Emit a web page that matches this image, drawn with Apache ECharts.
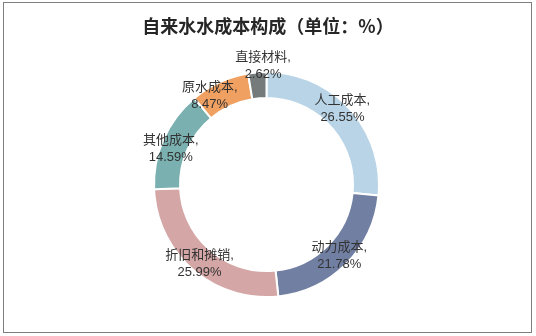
<!DOCTYPE html>
<html><head><meta charset="utf-8">
<script src="https://cdn.jsdelivr.net/npm/echarts@6/dist/echarts.min.js"></script>
<style>html,body{margin:0;padding:0;background:#fff}#c{width:536px;height:336px;position:relative}
#frame{position:absolute;left:3px;top:2px;width:527px;height:329px;border:1px solid #7f7f7f;box-sizing:content-box;pointer-events:none}</style>
</head><body><div id="c"></div><div id="frame"></div>
<script>
const categories = ['人工成本','动力成本','折旧和摊销','其他成本','原水成本','直接材料'];
const values = [26.55, 21.78, 25.99, 14.59, 8.47, 2.62];
const colors = ['#b8d4e6','#717fa3','#d4a6a6','#7ab0b0','#f0a060','#757b7b'];
const labelOffsets = [[0,-7],[0,-1],[0,2],[-2,6],[-14,5],[5,-16]];
const chart = echarts.init(document.getElementById('c'));
chart.setOption({
  animation:false,
  title:{text:'自来水水成本构成（单位：%）',left:'center',top:12,
    textStyle:{fontFamily:'Noto Sans CJK SC',fontWeight:'bold',fontSize:18,color:'#262626'}},
  series:[{
    type:'pie',
    center:[266.5,184.5],
    radius:[86.5,112.5],
    startAngle:90,
    clockwise:true,
    avoidLabelOverlap:false,
    minShowLabelAngle:0,
    labelLayout:{hideOverlap:false},
    itemStyle:{borderColor:'#fff',borderWidth:2},
    label:{show:true,position:'inside',formatter:'{b},\n{c}%',fontSize:13,lineHeight:17,color:'#333',
      fontFamily:'Liberation Sans, Noto Sans CJK SC'},
    labelLine:{show:false},
    data:categories.map((n,i)=>({name:n,value:values[i],itemStyle:{color:colors[i]},label:{offset:labelOffsets[i]}}))
  }]
});
</script></body></html>
